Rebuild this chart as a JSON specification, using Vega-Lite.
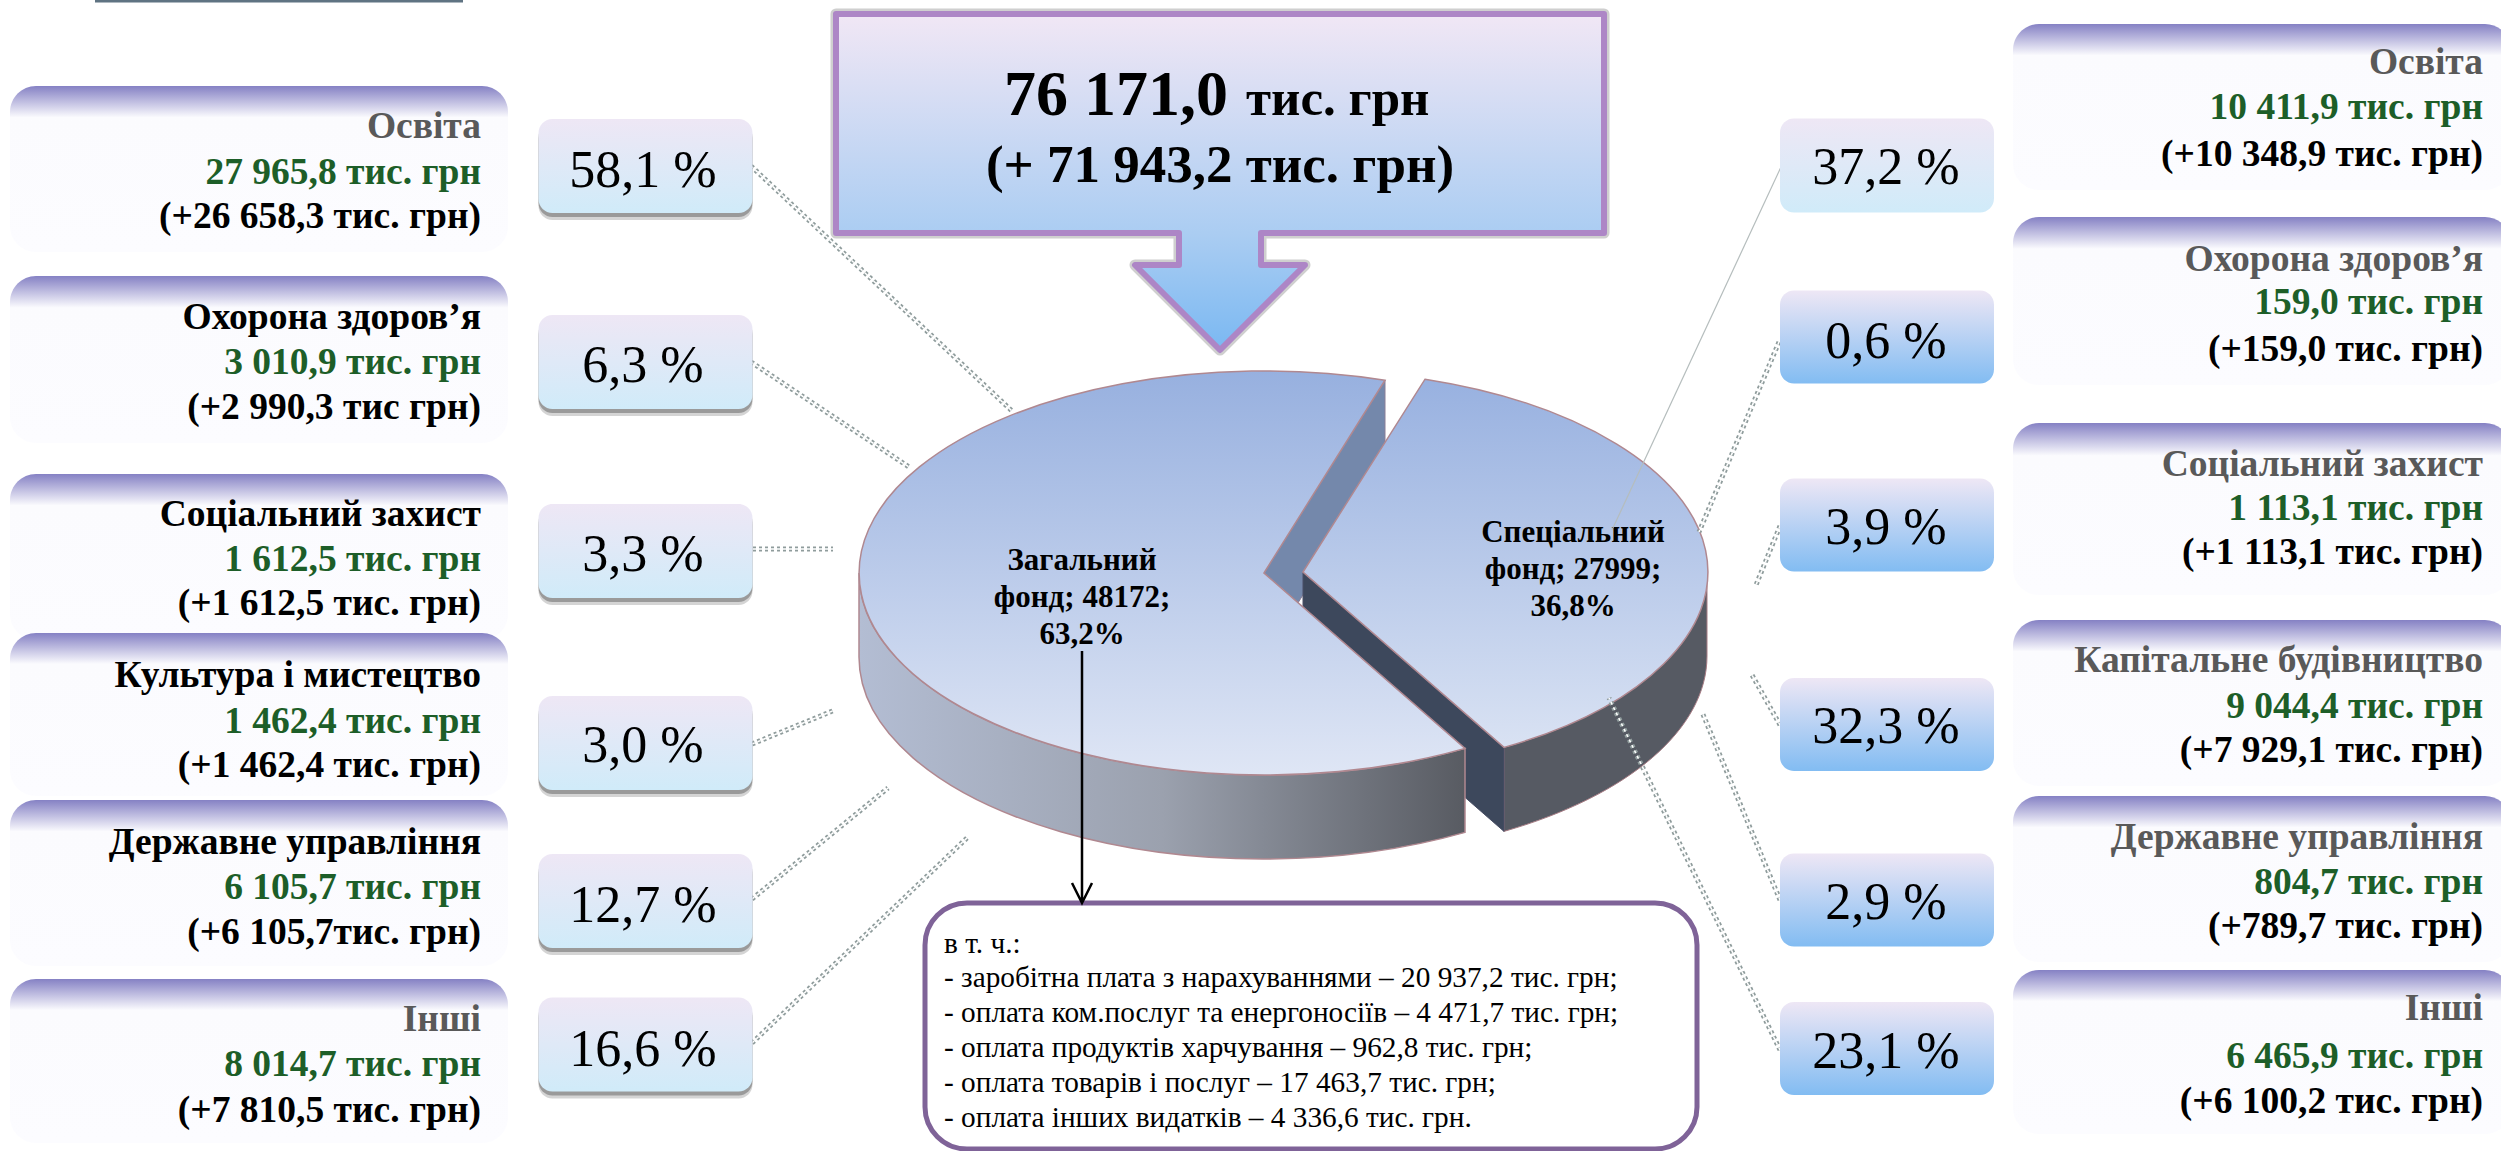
{"$schema":"https://vega.github.io/schema/vega-lite/v6.json","width":2501,"height":1151,"padding":0,"autosize":"none","background":"#ffffff","config":{"view":{"stroke":null}},
"datasets":{
"cards":[
{"slot":1,"slotEnd":13,"title":"Освіта","tone":"muted","amount":"27 965,8 тис. грн","change":"(+26 658,3 тис. грн)"},
{"slot":2,"slotEnd":14,"title":"Охорона здоров’я","tone":"strong","amount":"3 010,9 тис. грн","change":"(+2 990,3 тис грн)"},
{"slot":3,"slotEnd":15,"title":"Соціальний захист","tone":"strong","amount":"1 612,5 тис. грн","change":"(+1 612,5 тис. грн)"},
{"slot":4,"slotEnd":16,"title":"Культура і мистецтво","tone":"strong","amount":"1 462,4 тис. грн","change":"(+1 462,4 тис. грн)"},
{"slot":5,"slotEnd":17,"title":"Державне управління","tone":"strong","amount":"6 105,7 тис. грн","change":"(+6 105,7тис. грн)"},
{"slot":6,"slotEnd":18,"title":"Інші","tone":"muted","amount":"8 014,7 тис. грн","change":"(+7 810,5 тис. грн)"},
{"slot":7,"slotEnd":19,"title":"Освіта","tone":"muted","amount":"10 411,9 тис. грн","change":"(+10 348,9 тис. грн)"},
{"slot":8,"slotEnd":20,"title":"Охорона здоров’я","tone":"muted","amount":"159,0 тис. грн","change":"(+159,0 тис. грн)"},
{"slot":9,"slotEnd":21,"title":"Соціальний захист","tone":"muted","amount":"1 113,1 тис. грн","change":"(+1 113,1 тис. грн)"},
{"slot":10,"slotEnd":22,"title":"Капітальне будівництво","tone":"muted","amount":"9 044,4 тис. грн","change":"(+7 929,1 тис. грн)"},
{"slot":11,"slotEnd":23,"title":"Державне управління","tone":"muted","amount":"804,7 тис. грн","change":"(+789,7 тис. грн)"},
{"slot":12,"slotEnd":24,"title":"Інші","tone":"muted","amount":"6 465,9 тис. грн","change":"(+6 100,2 тис. грн)"}],
"chips":[
{"slot":1,"slotEnd":13,"pct":"58,1 %","look":"light","lead":"double"},
{"slot":2,"slotEnd":14,"pct":"6,3 %","look":"light","lead":"double"},
{"slot":3,"slotEnd":15,"pct":"3,3 %","look":"light","lead":"double"},
{"slot":4,"slotEnd":16,"pct":"3,0 %","look":"light","lead":"double"},
{"slot":5,"slotEnd":17,"pct":"12,7 %","look":"light","lead":"double"},
{"slot":6,"slotEnd":18,"pct":"16,6 %","look":"light","lead":"double"},
{"slot":7,"slotEnd":19,"pct":"37,2 %","look":"light","lead":"thin"},
{"slot":8,"slotEnd":20,"pct":"0,6 %","look":"deep","lead":"double"},
{"slot":9,"slotEnd":21,"pct":"3,9 %","look":"deep","lead":"double"},
{"slot":10,"slotEnd":22,"pct":"32,3 %","look":"deep","lead":"double"},
{"slot":11,"slotEnd":23,"pct":"2,9 %","look":"deep","lead":"double"},
{"slot":12,"slotEnd":24,"pct":"23,1 %","look":"deep","lead":"double"}],
"funds":[
{"fund":"Загальний фонд","value":48172,"label":["Загальний","фонд; 48172;","63,2%"]},
{"fund":"Спеціальний фонд","value":27999,"label":["Спеціальний","фонд; 27999;","36,8%"]}],
"total":[{"total":76171.0,"amount":"76 171,0","unit":"тис. грн","change":"(+ 71 943,2 тис. грн)"}],
"items":[
{"rank":0,"item":"в т. ч.:"},
{"rank":1,"item":"- заробітна плата з нарахуваннями – 20 937,2 тис. грн;"},
{"rank":2,"item":"- оплата ком.послуг та енергоносіїв – 4 471,7 тис. грн;"},
{"rank":3,"item":"- оплата продуктів харчування – 962,8 тис. грн;"},
{"rank":4,"item":"- оплата товарів і послуг – 17 463,7 тис. грн;"},
{"rank":5,"item":"- оплата інших видатків – 4 336,6 тис. грн."}]},
"resolve":{"scale":{"x":"independent","y":"independent"}},
"layer":[
{"data":{"name":"total"},"mark":{"type":"rect","width":368,"height":5,"fill":"#5F7382"},
 "encoding":{"x":{"field":"total","type":"quantitative","axis":null,"scale":{"domain":[0,76171],"range":[0,279],"nice":false}},"y":{"field":"total","type":"quantitative","axis":null,"scale":{"domain":[0,76171],"range":[0,0],"nice":false}}}},

{"data":{"name":"cards"},"mark":{"type":"rect","width":498,"cornerRadius":26,"fill":{"x1":0,"y1":0,"x2":0,"y2":1,"gradient":"linear","stops":[{"offset":0,"color":"#8581C4"},{"offset":0.19,"color":"#FBFBFE"},{"offset":1,"color":"#FCFCFF"}]}},
 "encoding":{"x":{"field":"slot","type":"quantitative","axis":null,"scale":{"domain":[1,6,7,12],"range":[259,259,2262,2262],"nice":false,"zero":false}},
 "y":{"field":"slot","type":"quantitative","axis":null,"scale":{"domain":[1,2,3,4,5,6,7,8,9,10,11,12,13,14,15,16,17,18,19,20,21,22,23,24],"range":[86,276,474,633,800,979,24,217,423,620,796,970,252,443,640,796,966,1143,190,385,595,786,962,1134],"nice":false,"zero":false}},"y2":{"field":"slotEnd"}}},

{"data":{"name":"cards"},"mark":{"type":"text","align":"right","baseline":"middle","font":"Liberation Serif","fontWeight":"bold","fontSize":37.5},
 "encoding":{"text":{"field":"title"},"x":{"field":"slot","type":"quantitative","axis":null,"scale":{"domain":[1,6,7,12],"range":[481,481,2483,2483],"nice":false,"zero":false}},
 "y":{"field":"slot","type":"quantitative","axis":null,"scale":{"domain":[1,2,3,4,5,6,7,8,9,10,11,12],"range":[127,318,515,676,843,1020,63,260,465,661,838,1009],"nice":false,"zero":false}},
 "color":{"field":"tone","type":"nominal","legend":null,"scale":{"domain":["muted","strong"],"range":["#595959","#000000"]}}}},
{"data":{"name":"cards"},"mark":{"type":"text","align":"right","baseline":"middle","font":"Liberation Serif","fontWeight":"bold","fontSize":37.5,"fill":"#1D5E28"},
 "encoding":{"text":{"field":"amount"},"x":{"field":"slot","type":"quantitative","axis":null,"scale":{"domain":[1,6,7,12],"range":[481,481,2483,2483],"nice":false,"zero":false}},
 "y":{"field":"slot","type":"quantitative","axis":null,"scale":{"domain":[1,2,3,4,5,6,7,8,9,10,11,12],"range":[173,363,560,722,888,1065,108,303,509,707,883,1057],"nice":false,"zero":false}}}},
{"data":{"name":"cards"},"mark":{"type":"text","align":"right","baseline":"middle","font":"Liberation Serif","fontWeight":"bold","fontSize":37.5,"fill":"#000000"},
 "encoding":{"text":{"field":"change"},"x":{"field":"slot","type":"quantitative","axis":null,"scale":{"domain":[1,6,7,12],"range":[481,481,2483,2483],"nice":false,"zero":false}},
 "y":{"field":"slot","type":"quantitative","axis":null,"scale":{"domain":[1,2,3,4,5,6,7,8,9,10,11,12],"range":[217,408,604,766,933,1111,155,350,553,751,927,1102],"nice":false,"zero":false}}}},

{"data":{"name":"total"},"mark":{"type":"point","filled":false,"opacity":0.35,"size":4,"stroke":"#777777","strokeWidth":11,"strokeJoin":"round","shape":"M-384,14L384,14L384,233L41,233L41,265L85,265L0,350L-85,265L-41,265L-41,233L-384,233Z"},
 "encoding":{"x":{"field":"total","type":"quantitative","axis":null,"scale":{"domain":[0,76171],"range":[0,1220],"nice":false}},"y":{"field":"total","type":"quantitative","axis":null,"scale":{"domain":[0,76171],"range":[0,0],"nice":false}}}},
{"data":{"name":"total"},"mark":{"type":"point","filled":true,"opacity":1,"size":4,"stroke":"#AD86C6","strokeWidth":6,"strokeJoin":"round","shape":"M-384,14L384,14L384,233L41,233L41,265L85,265L0,350L-85,265L-41,265L-41,233L-384,233Z","fill":{"x1":0,"y1":0,"x2":0,"y2":1,"gradient":"linear","stops":[{"offset":0,"color":"#F1E7F5"},{"offset":0.65,"color":"#ABCDF2"},{"offset":1,"color":"#7AB8F2"}]}},
 "encoding":{"x":{"field":"total","type":"quantitative","axis":null,"scale":{"domain":[0,76171],"range":[0,1220],"nice":false}},"y":{"field":"total","type":"quantitative","axis":null,"scale":{"domain":[0,76171],"range":[0,0],"nice":false}}}},
{"data":{"name":"total"},"mark":{"type":"text","align":"right","baseline":"alphabetic","font":"Liberation Serif","fontWeight":"bold","fontSize":64,"fill":"#000000"},
 "encoding":{"text":{"field":"amount"},"x":{"field":"total","type":"quantitative","axis":null,"scale":{"domain":[0,76171],"range":[0,1228],"nice":false}},"y":{"field":"total","type":"quantitative","axis":null,"scale":{"domain":[0,76171],"range":[0,115],"nice":false}}}},
{"data":{"name":"total"},"mark":{"type":"text","align":"left","baseline":"alphabetic","font":"Liberation Serif","fontWeight":"bold","fontSize":51,"fill":"#000000"},
 "encoding":{"text":{"field":"unit"},"x":{"field":"total","type":"quantitative","axis":null,"scale":{"domain":[0,76171],"range":[0,1246],"nice":false}},"y":{"field":"total","type":"quantitative","axis":null,"scale":{"domain":[0,76171],"range":[0,115],"nice":false}}}},
{"data":{"name":"total"},"mark":{"type":"text","align":"center","baseline":"alphabetic","font":"Liberation Serif","fontWeight":"bold","fontSize":53,"fill":"#000000"},
 "encoding":{"text":{"field":"change"},"x":{"field":"total","type":"quantitative","axis":null,"scale":{"domain":[0,76171],"range":[0,1220],"nice":false}},"y":{"field":"total","type":"quantitative","axis":null,"scale":{"domain":[0,76171],"range":[0,182],"nice":false}}}},

{"data":{"name":"funds"},"transform":[{"filter":"datum.value > 40000"}],"mark":{"type":"point","filled":true,"opacity":1,"size":4,"stroke":"#8A7F96","strokeWidth":1,"fill":"#7488AB","shape":"M121,-192.8L121,-108.8L0,84L0,0Z"},
 "encoding":{"x":{"field":"value","type":"quantitative","axis":null,"scale":{"domain":[27999,48172],"range":[1303,1264],"nice":false,"zero":false}},"y":{"field":"value","type":"quantitative","axis":null,"scale":{"domain":[27999,48172],"range":[572,573],"nice":false,"zero":false}}}},
{"data":{"name":"funds"},"transform":[{"filter":"datum.value < 40000"}],"mark":{"type":"point","filled":true,"opacity":1,"size":4,"stroke":"#A67C84","strokeWidth":1,"fill":"#565A63","shape":"M404,0A404,202 0 0 1 201,175.4L201,259.4A404,202 0 0 0 404,84Z"},
 "encoding":{"x":{"field":"value","type":"quantitative","axis":null,"scale":{"domain":[27999,48172],"range":[1303,1264],"nice":false,"zero":false}},"y":{"field":"value","type":"quantitative","axis":null,"scale":{"domain":[27999,48172],"range":[572,573],"nice":false,"zero":false}}}},
{"data":{"name":"funds"},"transform":[{"filter":"datum.value < 40000"}],"mark":{"type":"point","filled":true,"opacity":1,"size":4,"stroke":"#4A4F66","strokeWidth":1,"fill":"#3D485C","shape":"M0,0L201,175.4L201,259.4L0,84Z"},
 "encoding":{"x":{"field":"value","type":"quantitative","axis":null,"scale":{"domain":[27999,48172],"range":[1303,1264],"nice":false,"zero":false}},"y":{"field":"value","type":"quantitative","axis":null,"scale":{"domain":[27999,48172],"range":[572,573],"nice":false,"zero":false}}}},
{"data":{"name":"funds"},"transform":[{"filter":"datum.value < 40000"}],"mark":{"type":"point","filled":true,"opacity":1,"size":4,"stroke":"#B08890","strokeWidth":1.5,"shape":"M0,0L122,-192.8A404,202 0 0 1 201,175.4Z","fill":{"x1":0,"y1":0,"x2":0,"y2":1,"gradient":"linear","stops":[{"offset":0,"color":"#98B1E0"},{"offset":1,"color":"#D9E2F3"}]}},
 "encoding":{"x":{"field":"value","type":"quantitative","axis":null,"scale":{"domain":[27999,48172],"range":[1303,1264],"nice":false,"zero":false}},"y":{"field":"value","type":"quantitative","axis":null,"scale":{"domain":[27999,48172],"range":[572,573],"nice":false,"zero":false}}}},
{"data":{"name":"funds"},"transform":[{"filter":"datum.value > 40000"}],"mark":{"type":"point","filled":true,"opacity":1,"size":4,"stroke":"#B08890","strokeWidth":1.5,"shape":"M-405,0A405,202 0 0 0 201,175.4L201,259.4A405,202 0 0 1 -405,84Z","fill":{"x1":0,"y1":0,"x2":1,"y2":0,"gradient":"linear","stops":[{"offset":0,"color":"#B3BDD3"},{"offset":0.5,"color":"#9BA1AE"},{"offset":1,"color":"#585B62"}]}},
 "encoding":{"x":{"field":"value","type":"quantitative","axis":null,"scale":{"domain":[27999,48172],"range":[1303,1264],"nice":false,"zero":false}},"y":{"field":"value","type":"quantitative","axis":null,"scale":{"domain":[27999,48172],"range":[572,573],"nice":false,"zero":false}}}},
{"data":{"name":"funds"},"transform":[{"filter":"datum.value > 40000"}],"mark":{"type":"point","filled":true,"opacity":1,"size":4,"stroke":"#B08890","strokeWidth":1.5,"shape":"M0,0L121,-192.8A405,202 0 1 0 201,175.4Z","fill":{"x1":0,"y1":0,"x2":0,"y2":1,"gradient":"linear","stops":[{"offset":0,"color":"#97B0DF"},{"offset":1,"color":"#DFE6F5"}]}},
 "encoding":{"x":{"field":"value","type":"quantitative","axis":null,"scale":{"domain":[27999,48172],"range":[1303,1264],"nice":false,"zero":false}},"y":{"field":"value","type":"quantitative","axis":null,"scale":{"domain":[27999,48172],"range":[572,573],"nice":false,"zero":false}}}},
{"data":{"name":"funds"},"mark":{"type":"text","align":"center","baseline":"middle","font":"Liberation Serif","fontWeight":"bold","fontSize":31,"lineHeight":37,"fill":"#000000"},
 "encoding":{"text":{"field":"label"},"x":{"field":"value","type":"quantitative","axis":null,"scale":{"domain":[27999,48172],"range":[1573,1082],"nice":false,"zero":false}},"y":{"field":"value","type":"quantitative","axis":null,"scale":{"domain":[27999,48172],"range":[533,561],"nice":false,"zero":false}}}},

{"data":{"name":"chips"},"transform":[{"filter":"datum.lead === 'double'"}],"mark":{"type":"rule","stroke":"#8F9C9C","strokeWidth":5,"strokeDash":[3,3]},
 "encoding":{"x":{"field":"slot","type":"quantitative","axis":null,"scale":{"domain":[1,2,3,4,5,6,7,8,9,10,11,12,13,14,15,16,17,18,19,20,21,22,23,24],"range":[751,751,753,752,752,752,1781,1779,1780,1780,1780,1780,1012,909,833,835,888,968,1612,1699,1756,1752,1702,1609],"nice":false,"zero":false}},"x2":{"field":"slotEnd"},
 "y":{"field":"slot","type":"quantitative","axis":null,"scale":{"domain":[1,2,3,4,5,6,7,8,9,10,11,12,13,14,15,16,17,18,19,20,21,22,23,24],"range":[166,362,549,744,899,1043,167,342,526,725,900,1050,411,467,549,710,788,837,530,532,585,675,712,698],"nice":false,"zero":false}},"y2":{"field":"slotEnd"}}},
{"data":{"name":"chips"},"transform":[{"filter":"datum.lead === 'double'"}],"mark":{"type":"rule","stroke":"#FFFFFF","strokeWidth":1.5,"strokeDash":[3,3]},
 "encoding":{"x":{"field":"slot","type":"quantitative","axis":null,"scale":{"domain":[1,2,3,4,5,6,7,8,9,10,11,12,13,14,15,16,17,18,19,20,21,22,23,24],"range":[751,751,753,752,752,752,1781,1779,1780,1780,1780,1780,1012,909,833,835,888,968,1612,1699,1756,1752,1702,1609],"nice":false,"zero":false}},"x2":{"field":"slotEnd"},
 "y":{"field":"slot","type":"quantitative","axis":null,"scale":{"domain":[1,2,3,4,5,6,7,8,9,10,11,12,13,14,15,16,17,18,19,20,21,22,23,24],"range":[166,362,549,744,899,1043,167,342,526,725,900,1050,411,467,549,710,788,837,530,532,585,675,712,698],"nice":false,"zero":false}},"y2":{"field":"slotEnd"}}},
{"data":{"name":"chips"},"transform":[{"filter":"datum.lead === 'thin'"}],"mark":{"type":"rule","stroke":"#B5BDBD","strokeWidth":1.2},
 "encoding":{"x":{"field":"slot","type":"quantitative","axis":null,"scale":{"domain":[1,2,3,4,5,6,7,8,9,10,11,12,13,14,15,16,17,18,19,20,21,22,23,24],"range":[751,751,753,752,752,752,1781,1779,1780,1780,1780,1780,1012,909,833,835,888,968,1612,1699,1756,1752,1702,1609],"nice":false,"zero":false}},"x2":{"field":"slotEnd"},
 "y":{"field":"slot","type":"quantitative","axis":null,"scale":{"domain":[1,2,3,4,5,6,7,8,9,10,11,12,13,14,15,16,17,18,19,20,21,22,23,24],"range":[166,362,549,744,899,1043,167,342,526,725,900,1050,411,467,549,710,788,837,530,532,585,675,712,698],"nice":false,"zero":false}},"y2":{"field":"slotEnd"}}},

{"data":{"name":"chips"},"transform":[{"filter":"datum.slot <= 6"}],"mark":{"type":"rect","width":214,"height":94,"yOffset":7,"cornerRadius":14,"fill":"#666666","opacity":0.28},
 "encoding":{"x":{"field":"slot","type":"quantitative","axis":null,"scale":{"domain":[1,6,7,12],"range":[645.5,645.5,1887,1887],"nice":false,"zero":false}},"y":{"field":"slot","type":"quantitative","axis":null,"scale":{"domain":[1,2,3,4,5,6,7,8,9,10,11,12],"range":[166,362,551,743,901,1044.5,165.5,337,525,724.5,900,1048.5],"nice":false,"zero":false}}}},
{"data":{"name":"chips"},"transform":[{"filter":"datum.slot <= 6"}],"mark":{"type":"rect","width":214,"height":94,"yOffset":4,"cornerRadius":14,"fill":"#555555","opacity":0.45},
 "encoding":{"x":{"field":"slot","type":"quantitative","axis":null,"scale":{"domain":[1,6,7,12],"range":[645.5,645.5,1887,1887],"nice":false,"zero":false}},"y":{"field":"slot","type":"quantitative","axis":null,"scale":{"domain":[1,2,3,4,5,6,7,8,9,10,11,12],"range":[166,362,551,743,901,1044.5,165.5,337,525,724.5,900,1048.5],"nice":false,"zero":false}}}},
{"data":{"name":"chips"},"transform":[{"filter":"datum.look === 'light'"}],"mark":{"type":"rect","width":214,"height":94,"cornerRadius":14,"fill":{"x1":0,"y1":0,"x2":0,"y2":1,"gradient":"linear","stops":[{"offset":0,"color":"#EEE7F5"},{"offset":1,"color":"#D0EBF9"}]}},
 "encoding":{"x":{"field":"slot","type":"quantitative","axis":null,"scale":{"domain":[1,6,7,12],"range":[645.5,645.5,1887,1887],"nice":false,"zero":false}},"y":{"field":"slot","type":"quantitative","axis":null,"scale":{"domain":[1,2,3,4,5,6,7,8,9,10,11,12],"range":[166,362,551,743,901,1044.5,165.5,337,525,724.5,900,1048.5],"nice":false,"zero":false}}}},
{"data":{"name":"chips"},"transform":[{"filter":"datum.look === 'deep'"}],"mark":{"type":"rect","width":214,"height":93,"cornerRadius":14,"fill":{"x1":0,"y1":0,"x2":0,"y2":1,"gradient":"linear","stops":[{"offset":0,"color":"#EEE7F5"},{"offset":1,"color":"#82BCF2"}]}},
 "encoding":{"x":{"field":"slot","type":"quantitative","axis":null,"scale":{"domain":[1,6,7,12],"range":[645.5,645.5,1887,1887],"nice":false,"zero":false}},"y":{"field":"slot","type":"quantitative","axis":null,"scale":{"domain":[1,2,3,4,5,6,7,8,9,10,11,12],"range":[166,362,551,743,901,1044.5,165.5,337,525,724.5,900,1048.5],"nice":false,"zero":false}}}},
{"data":{"name":"chips"},"mark":{"type":"text","align":"center","baseline":"middle","font":"Liberation Serif","fontSize":52,"fill":"#000000"},
 "encoding":{"text":{"field":"pct"},"x":{"field":"slot","type":"quantitative","axis":null,"scale":{"domain":[1,6,7,12],"range":[643,643,1886,1886],"nice":false,"zero":false}},"y":{"field":"slot","type":"quantitative","axis":null,"scale":{"domain":[1,2,3,4,5,6,7,8,9,10,11,12],"range":[171,366,555,746,906,1050,168,342,528,727,903,1052],"nice":false,"zero":false}}}},

{"data":{"name":"total"},"mark":{"type":"rect","width":772,"height":246,"cornerRadius":42,"fill":"#FFFFFF","stroke":"#7F6398","strokeWidth":5},
 "encoding":{"x":{"field":"total","type":"quantitative","axis":null,"scale":{"domain":[0,76171],"range":[0,1311],"nice":false}},"y":{"field":"total","type":"quantitative","axis":null,"scale":{"domain":[0,76171],"range":[0,1026],"nice":false}}}},
{"data":{"name":"funds"},"transform":[{"filter":"datum.value > 40000"}],"mark":{"type":"point","filled":false,"opacity":1,"size":4,"stroke":"#000000","strokeWidth":2.5,"shape":"M0,0L0,252M-10,232L0,252L10,232"},
 "encoding":{"x":{"field":"value","type":"quantitative","axis":null,"scale":{"domain":[27999,48172],"range":[1303,1082],"nice":false,"zero":false}},"y":{"field":"value","type":"quantitative","axis":null,"scale":{"domain":[27999,48172],"range":[572,651],"nice":false,"zero":false}}}},
{"data":{"name":"items"},"mark":{"type":"text","align":"left","baseline":"middle","font":"Liberation Serif","fontSize":29.3,"fill":"#000000"},
 "encoding":{"text":{"field":"item"},"x":{"field":"rank","type":"quantitative","axis":null,"scale":{"domain":[0,5],"range":[944,944],"nice":false,"zero":false}},"y":{"field":"rank","type":"quantitative","axis":null,"scale":{"domain":[0,1,2,3,4,5],"range":[944,978,1013,1048,1083,1118],"nice":false,"zero":false}}}}
]}
